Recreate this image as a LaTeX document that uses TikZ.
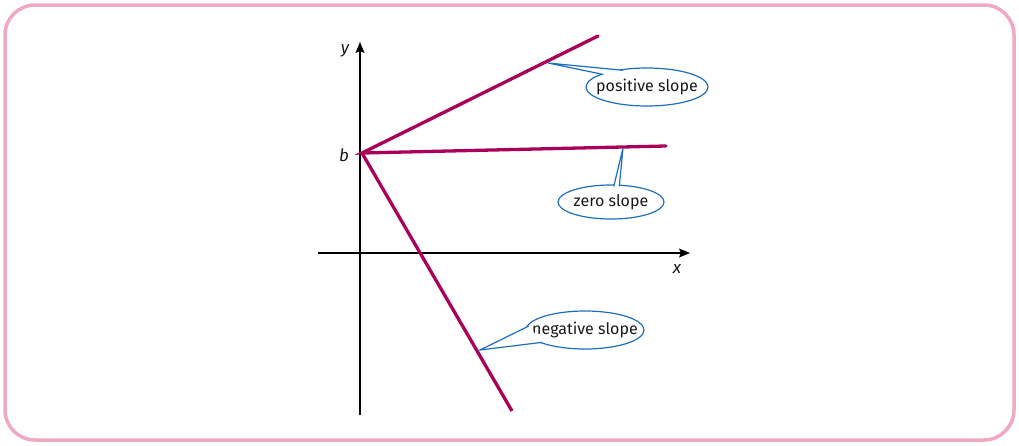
\documentclass[tikz,border=0pt]{standalone}
\usepackage{fontspec}
\setmainfont{Fira Sans}
\usetikzlibrary{shapes.geometric,arrows.meta,calc}
\definecolor{framepink}{RGB}{240,168,196}
\definecolor{slopered}{RGB}{170,0,90}
\definecolor{callblue}{RGB}{30,110,190}
\definecolor{txtgray}{RGB}{25,25,25}
\newcommand{\zw}[1]{\makebox[0pt]{#1}}
\tikzset{
  axis/.style={line width=1.3pt, black, -{Stealth[length=11pt,width=9pt,inset=2pt]}},
  slopeline/.style={line width=3.3pt, slopered},
  callout/.style={ellipse, draw=callblue, fill=white, line width=1.2pt, inner sep=0pt, font=\fontsize{16}{18}\selectfont, text=txtgray},
  wedge/.style={fill=white, draw=none},
  wedgeside/.style={draw=callblue, line width=1.2pt},
  axlabel/.style={font=\fontsize{17}{19}\selectfont\itshape, text=txtgray}
}
\begin{document}
\begin{tikzpicture}[x=1pt,y=-1pt]
\useasboundingbox (0,0) rectangle (1019,445);
\draw[framepink, line width=3.5pt, rounded corners=30pt] (5,5) rectangle (1014,440);

% axes
\coordinate (ybot) at (360,415);
\coordinate (ytop) at (360,42);
\coordinate (xl) at (318,253);
\coordinate (xr) at (690,253);
\draw[axis] (ybot) -- (ytop);
\draw[axis] (xl) -- (xr);
\node[axlabel] (ylab) at (345,51) {y};
\node[axlabel] (xlab) at (677,269) {x};
\node[axlabel] (blab) at (344,155) {b};

% slope lines
\coordinate (b) at (362,153);
\coordinate (pend) at (598,36);
\coordinate (zend) at (666,146);
\coordinate (nend) at (512,411);
\draw[slopeline, line cap=round] (pend) -- (b) -- (zend);
\draw[slopeline] (b) -- (nend);

% callouts
\node[callout, minimum width=122pt, minimum height=38pt] (pos) at (647,87) {\zw{positive slope}};
\node[callout, minimum width=106pt, minimum height=34pt] (zero) at (611,202) {\zw{zero slope}};
\node[callout, minimum width=118pt, minimum height=38pt] (neg) at (585,330) {\zw{negative slope}};

\coordinate (ptip) at (548,63);
\coordinate (ztip) at (623,148);
\coordinate (ntip) at (480,350);

\coordinate (pa) at ($(pos.145)!2pt!(pos.center)$);
\coordinate (pb) at ($(pos.164)!2pt!(pos.center)$);
\coordinate (za) at ($(zero.80)!2pt!(zero.center)$);
\coordinate (zb) at ($(zero.62)!2pt!(zero.center)$);
\coordinate (na) at ($(neg.176)!2pt!(neg.center)$);
\coordinate (nb) at ($(neg.196)!2pt!(neg.center)$);

\fill[wedge] (ptip) -- (pa) -- (pb) -- cycle;
\draw[wedgeside] (pa) -- (ptip) -- (pb);
\fill[wedge] (ztip) -- (za) -- (zb) -- cycle;
\draw[wedgeside] (za) -- (ztip) -- (zb);
\fill[wedge] (ntip) -- (na) -- (nb) -- cycle;
\draw[wedgeside] (na) -- (ntip) -- (nb);
\end{tikzpicture}
\end{document}
